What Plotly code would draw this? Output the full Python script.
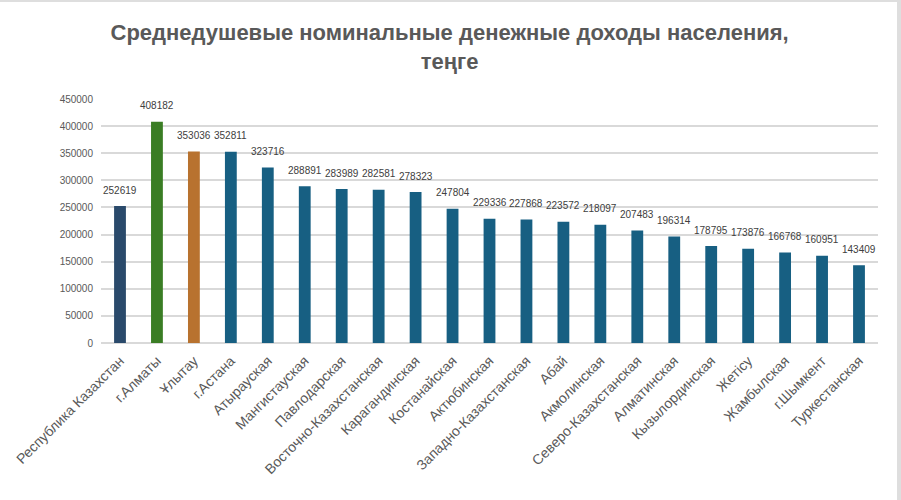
import plotly.graph_objects as go

categories = ["Республика Казахстан", "г.Алматы", "Ұлытау", "г.Астана", "Атырауская",
              "Мангистауская", "Павлодарская", "Восточно-Казахстанская", "Карагандинская",
              "Костанайская", "Актюбинская", "Западно-Казахстанская", "Абай", "Акмолинская",
              "Северо-Казахстанская", "Алматинская", "Кызылординская", "Жетісу",
              "Жамбылская", "г.Шымкент", "Туркестанская"]
values = [252619, 408182, 353036, 352811, 323716, 288891, 283989, 282581, 278323,
          247804, 229336, 227868, 223572, 218097, 207483, 196314, 178795, 173876,
          166768, 160951, 143409]
bar_colors = ["#2a4a6b", "#3a7d24", "#b8722f"] + ["#175f82"] * 18
y_ticks = [0, 50000, 100000, 150000, 200000, 250000, 300000, 350000, 400000, 450000]
title_text = "Среднедушевые номинальные денежные доходы населения,<br>теңге"

fig = go.Figure()
fig.add_trace(go.Bar(x=categories, y=values, marker=dict(color=bar_colors, line=dict(width=0)),
                     hoverinfo="x+y"))

for c, v in zip(categories, values):
    fig.add_annotation(x=c, y=v, text=str(v), showarrow=False, yanchor="middle", yshift=16,
                       font=dict(family="Liberation Sans, Arial", size=10, color="#404040"))

W, H = 901, 500
L, R, T, B = 101, 23, 99, 157
pw = W - L - R
ph = H - T - B
# light frame strips (top and right edges of the screenshot)
fig.add_shape(type="rect", xref="paper", yref="paper",
              x0=-L / pw, x1=(W - L) / pw, y0=1 + (T - 2) / ph, y1=1 + T / ph,
              fillcolor="#dedede", line=dict(width=0), layer="below")
fig.add_shape(type="rect", xref="paper", yref="paper",
              x0=(897 - L) / pw, x1=(W - L) / pw, y0=-B / ph, y1=1 + T / ph,
              fillcolor="#dedede", line=dict(width=0), layer="below")

fig.update_layout(
    width=W, height=H,
    margin=dict(l=L, r=R, t=T, b=B, pad=0),
    paper_bgcolor="white", plot_bgcolor="white",
    bargap=0.68,
    showlegend=False,
    title=dict(text=title_text, x=0.499, xanchor="center", xref="container",
               y=0.92, yanchor="middle", yref="container",
               font=dict(family="Liberation Sans, Arial", size=22,
                         color="#595959", weight="bold")),
    xaxis=dict(tickangle=-45, tickfont=dict(family="Liberation Sans, Arial", size=14, color="#595959"),
               showgrid=False, showline=False, ticks="", automargin=False,
               ticklabelstandoff=6),
    yaxis=dict(range=[0, 450000], tickvals=y_ticks, ticktext=[str(t) for t in y_ticks],
               tickfont=dict(family="Liberation Sans, Arial", size=10, color="#595959"),
               showgrid=True, gridcolor="#d9d9d9", gridwidth=2,
               zeroline=True, zerolinecolor="#d9d9d9", zerolinewidth=2,
               showline=False, ticks="", ticklen=0, automargin=False,
               ticklabelstandoff=7),
)

fig.write_html("out.html")
